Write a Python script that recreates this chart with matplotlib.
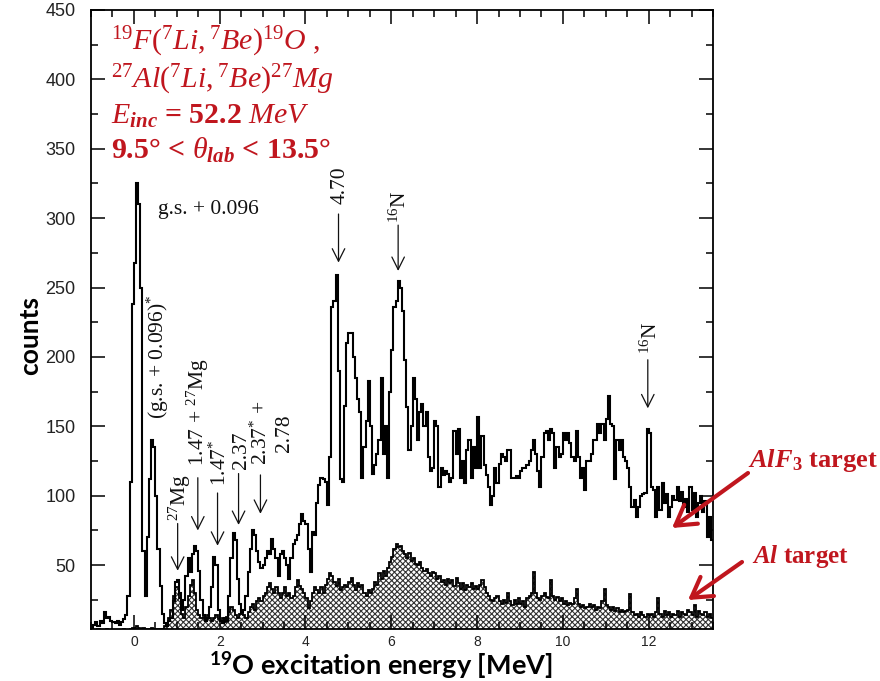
import numpy as np
import matplotlib
matplotlib.use("Agg")
import matplotlib.pyplot as plt
from matplotlib.ticker import MultipleLocator

# --- spectrum data (counts per 0.05 MeV bin, starting at -1.0 MeV) ---
BIN_START = -1.0
BIN_WIDTH = 0.05

alf3_counts = [
    4, 7, 9, 6, 10, 8, 16, 12, 13, 10, 9, 8, 10, 7, 9, 11, 14, 28, 110, 238,
    268, 325, 310, 250, 60, 28, 70, 112, 140, 135, 100, 62, 35, 15, 8, 6, 10, 12, 24, 38,
    39, 30, 18, 25, 42, 55, 45, 58, 64, 60, 46, 25, 14, 10, 12, 20, 34, 56, 50, 18,
    10, 8, 12, 10, 28, 55, 73, 68, 40, 22, 16, 18, 28, 45, 62, 75, 72, 60, 52, 48,
    50, 55, 60, 58, 69, 62, 55, 42, 58, 60, 55, 50, 40, 55, 65, 68, 72, 80, 87, 82,
    80, 62, 45, 74, 72, 95, 108, 113, 112, 110, 93, 128, 236, 240, 259, 190, 112, 110, 165, 210,
    217, 217, 200, 185, 170, 160, 113, 135, 154, 183, 150, 116, 122, 130, 140, 185, 130, 150, 113, 175,
    205, 236, 240, 255, 250, 233, 198, 164, 133, 150, 185, 170, 140, 160, 166, 150, 160, 128, 118, 120,
    154, 150, 106, 120, 115, 118, 116, 110, 113, 147, 130, 148, 113, 125, 109, 133, 140, 113, 135, 120,
    157, 120, 143, 122, 115, 106, 93, 100, 120, 109, 123, 130, 128, 125, 133, 133, 113, 113, 114, 113,
    118, 120, 120, 122, 125, 133, 140, 130, 118, 106, 128, 145, 147, 140, 148, 145, 120, 135, 128, 130,
    145, 140, 145, 138, 128, 125, 147, 128, 113, 120, 104, 125, 125, 130, 140, 140, 152, 145, 152, 140,
    155, 172, 152, 150, 112, 140, 133, 140, 128, 125, 120, 106, 92, 97, 85, 92, 100, 101, 102, 148,
    145, 106, 104, 85, 106, 90, 109, 95, 101, 85, 92, 100, 97, 106, 96, 103, 92, 98, 88, 106,
    90, 102, 85, 95, 100, 88, 96, 70, 85, 68,
]

al_counts = [
    2, 3, 2, 4, 3, 2, 3, 4, 3, 2, 3, 2, 3, 2, 3, 4, 3, 3, 4, 5,
    5, 6, 5, 4, 5, 4, 3, 4, 5, 4, 3, 4, 3, 4, 6, 8, 12, 18, 28, 34,
    34, 26, 15, 12, 20, 28, 36, 39, 30, 18, 14, 12, 13, 10, 14, 12, 10, 12, 14, 11,
    10, 12, 9, 13, 16, 20, 18, 14, 12, 15, 18, 14, 12, 16, 20, 22, 18, 24, 26, 24,
    28, 30, 34, 37, 33, 30, 34, 30, 26, 30, 34, 28, 30, 26, 28, 34, 39, 35, 33, 30,
    26, 19, 24, 30, 34, 32, 30, 34, 30, 36, 40, 44, 42, 38, 35, 40, 32, 34, 36, 34,
    38, 41, 36, 32, 37, 34, 36, 30, 28, 32, 30, 33, 38, 36, 44, 40, 46, 42, 48, 52,
    56, 62, 65, 63, 64, 60, 58, 55, 59, 53, 55, 51, 50, 52, 48, 46, 47, 44, 42, 45,
    44, 40, 42, 38, 39, 36, 40, 37, 39, 35, 41, 37, 33, 37, 32, 36, 34, 37, 33, 35,
    33, 36, 39, 34, 30, 28, 25, 24, 26, 28, 24, 22, 25, 23, 30, 24, 21, 25, 22, 26,
    22, 24, 20, 26, 28, 30, 45, 30, 26, 25, 28, 30, 27, 26, 39, 28, 25, 27, 24, 26,
    22, 24, 21, 23, 22, 26, 33, 22, 20, 21, 19, 20, 22, 20, 21, 18, 20, 19, 24, 33,
    21, 20, 18, 20, 17, 19, 16, 18, 16, 17, 18, 29, 16, 14, 15, 13, 16, 14, 13, 15,
    14, 15, 13, 16, 26, 15, 13, 17, 14, 16, 13, 15, 14, 17, 13, 16, 15, 14, 18, 16,
    14, 21, 13, 17, 15, 14, 16, 13, 15, 12,
]

# --- peak labels: (text, text x, text y, arrow x, arrow top, arrow tip) ---
peak_labels = ["$^{27}$Mg", "1.47 + $^{27}$Mg", "1.47$^{*}$", "2.37",
               "2.37$^{*}$ +\n2.78", "4.70", "$^{16}$N", "$^{16}$N"]
label_x = [1.07, 1.49, 2.02, 2.51, 3.23, 4.81, 6.21, 12.07]
label_y = [99, 160, 124, 133, 145, 324, 308, 214]
arrow_x = [1.02, 1.49, 1.95, 2.44, 2.95, 4.77, 6.16, 11.98]
arrow_top = [80, 113, 102, 116, 115, 303, 295, 198]
arrow_tip = [46, 75, 64, 79, 87, 268, 262, 163]

title_lines = [r"$^{19}F(^{7}Li,^{7}Be)^{19}O$ ,",
               r"$^{27}Al(^{7}Li,^{7}Be)^{27}Mg$",
               r"$E_{\mathbfit{inc}}$ = 52.2 $MeV$",
               r"9.5° < $\theta_{\mathbfit{lab}}$ < 13.5°"]
title_y = [421, 394, 368, 343]
title_weight = ["normal", "normal", "bold", "bold"]

RED = "#c0161e"

plt.rcParams["mathtext.fontset"] = "custom"
plt.rcParams["mathtext.rm"] = "Liberation Serif"
plt.rcParams["mathtext.it"] = "Liberation Serif:italic"
plt.rcParams["mathtext.bf"] = "Liberation Serif:bold"
plt.rcParams["mathtext.bfit"] = "Liberation Serif:italic:bold"
plt.rcParams["hatch.linewidth"] = 0.8

fig = plt.figure(figsize=(8.8, 6.81), dpi=100)
ax = fig.add_axes([91 / 880, 1 - 629 / 681, (713 - 91) / 880, (629 - 10) / 681])

edges = BIN_START + BIN_WIDTH * np.arange(len(alf3_counts) + 1)

# Al target (hatched)
ax.stairs(al_counts, edges, baseline=0, fill=True, facecolor="white",
          edgecolor="#333333", hatch="xxxxxx", linewidth=0)
ax.stairs(al_counts, edges, baseline=None, color="black", lw=1.3)
# AlF3 target
ax.stairs(alf3_counts, edges, baseline=None, color="black", lw=1.5)

ax.set_xlim(-1, 13.5)
ax.set_ylim(4, 450)
ax.xaxis.set_major_locator(MultipleLocator(2))
ax.xaxis.set_minor_locator(MultipleLocator(0.5))
ax.yaxis.set_major_locator(MultipleLocator(50))
ax.yaxis.set_minor_locator(MultipleLocator(25))
ax.tick_params(which="both", direction="in", top=True, right=True, width=1.1)
ax.tick_params(which="major", length=10)
ax.tick_params(which="minor", length=5)
ax.tick_params(axis="y", labelsize=13, pad=11, labelcolor="#222222")
ax.tick_params(axis="x", labelsize=10, pad=4, labelcolor="#222222")
for lab in ax.get_xticklabels() + ax.get_yticklabels():
    lab.set_family("Liberation Sans")
for s in ax.spines.values():
    s.set_linewidth(1.3)

# black peak annotations
ser = dict(family="Liberation Serif", fontsize=15.5, color="#111111")
ax.text(0.56, 306, "g.s. + 0.096", ha="left", va="center", **ser)
ax.text(0.56, 200, "(g.s. + 0.096)$^{*}$", rotation=90, ha="center", va="center", **ser)
for t, tx, ty, axx, top, tip in zip(peak_labels, label_x, label_y, arrow_x, arrow_top, arrow_tip):
    ax.text(tx, ty, t, rotation=90, ha="center", va="center", multialignment="center", **ser)
    ax.annotate("", xy=(axx, tip), xytext=(axx, top),
                arrowprops=dict(arrowstyle="->, head_length=0.5, head_width=0.25",
                                mutation_scale=18, lw=0.9, color="#111111",
                                shrinkA=0, shrinkB=0))

# red reaction text
for line, ly, w in zip(title_lines, title_y, title_weight):
    ax.text(-0.53, ly, line, ha="left", va="baseline", color=RED,
            family="Liberation Serif", fontsize=21.5, fontweight=w)

# red target labels and arrows (figure pixels)
fig.text(748 / 880, (681 - 467) / 681, r"$\mathbfit{AlF}_{\mathbf{3}}$ target", color=RED,
         family="Liberation Serif", fontsize=19, fontweight="bold", va="baseline")
fig.text(752 / 880, (681 - 563) / 681, r"$\mathbfit{Al}$ target", color=RED,
         family="Liberation Serif", fontsize=18, fontweight="bold", va="baseline")
for (sx, sy), (ex, ey) in [((748, 473), (672, 528)), ((742, 562), (688, 600))]:
    ax.annotate("", xy=(ex, 681 - ey), xytext=(sx, 681 - sy),
                xycoords="figure pixels", textcoords="figure pixels",
                arrowprops=dict(arrowstyle="->, head_length=0.5, head_width=0.3",
                                mutation_scale=28, lw=3, color=RED,
                                shrinkA=0, shrinkB=0), annotation_clip=False)

# axis labels
fig.text(30 / 880, (681 - 335) / 681, "counts", rotation=90, ha="center", va="center",
         family="Lato", fontweight="bold", fontsize=19)
fig.text(381 / 880, (681 - 674) / 681, r"$^{\mathregular{19}}$O excitation energy [MeV]",
         ha="center", va="baseline", family="Lato", fontweight="bold", fontsize=19.5)

fig.savefig("out.png", dpi=100)
